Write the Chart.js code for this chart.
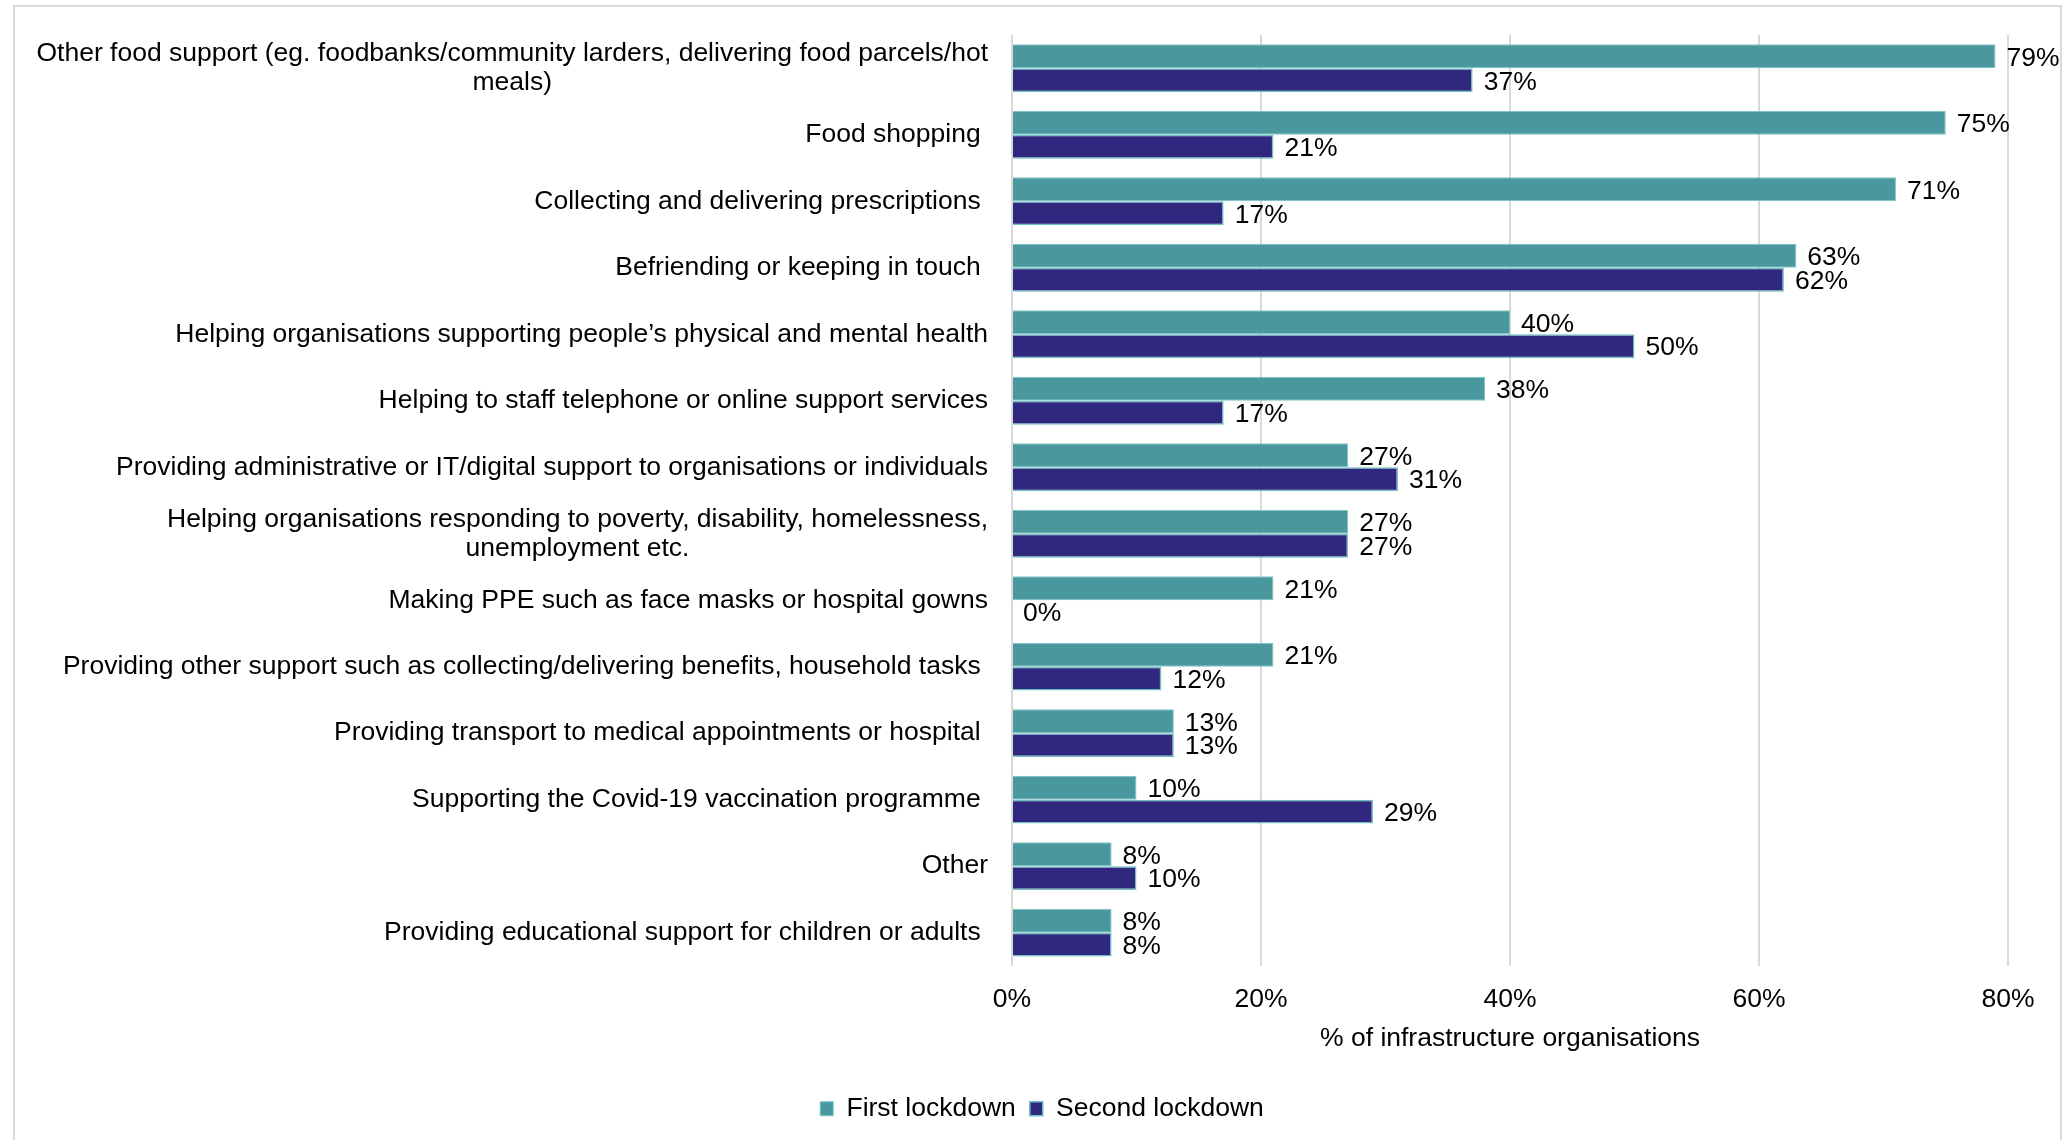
<!DOCTYPE html>
<html>
<head>
<meta charset="utf-8">
<script src="https://cdn.jsdelivr.net/npm/chart.js@4.4.1/dist/chart.umd.min.js"></script>
<style>
  html, body { margin: 0; padding: 0; background: #fff; }
  #wrap { position: relative; width: 2067px; height: 1140px; }
</style>
</head>
<body>
<div id="wrap"><canvas id="grafica" width="2067" height="1140"></canvas></div>
<script>
// Categorias (las de dos lineas van como arreglo)
const categorias = [
  ['Other food support (eg. foodbanks/community larders, delivering food parcels/hot', 'meals)'],
  'Food shopping ',
  'Collecting and delivering prescriptions ',
  'Befriending or keeping in touch ',
  'Helping organisations supporting people\u2019s physical and mental health',
  'Helping to staff telephone or online support services',
  'Providing administrative or IT/digital support to organisations or individuals',
  ['Helping organisations responding to poverty, disability, homelessness,', 'unemployment etc.'],
  'Making PPE such as face masks or hospital gowns',
  'Providing other support such as collecting/delivering benefits, household tasks ',
  'Providing transport to medical appointments or hospital ',
  'Supporting the Covid-19 vaccination programme ',
  'Other',
  'Providing educational support for children or adults '
];
const primerConfinamiento = [79, 75, 71, 63, 40, 38, 27, 27, 21, 21, 13, 10, 8, 8];
const segundoConfinamiento = [37, 21, 17, 62, 50, 17, 31, 27, 0, 12, 13, 29, 10, 8];
const ticksX = [0, 20, 40, 60, 80];
const nombresSeries = ['First lockdown', 'Second lockdown'];

const FUENTE = 'Arial, "Liberation Sans", sans-serif';
const TAM = 26.5;

// Marco gris alrededor del grafico
const marco = {
  id: 'marco',
  beforeDraw(chart) {
    const ctx = chart.ctx;
    ctx.save();
    ctx.strokeStyle = '#d9d9d9';
    ctx.lineWidth = 2;
    ctx.strokeRect(14, 6, 2047, 1200);
    ctx.restore();
  }
};

// Etiquetas de categoria: derecha alineada, lineas centradas entre si
const etiquetasY = {
  id: 'etiquetasY',
  afterDraw(chart) {
    const ctx = chart.ctx, y = chart.scales.y;
    const derecha = chart.chartArea.left - 24;
    const alto = 29;
    ctx.save();
    ctx.font = TAM + 'px ' + FUENTE;
    ctx.fillStyle = '#000';
    ctx.textBaseline = 'middle';
    ctx.textAlign = 'center';
    categorias.forEach((cat, i) => {
      const lineas = Array.isArray(cat) ? cat : [cat];
      const ancho = Math.max(...lineas.map(l => ctx.measureText(l).width));
      const cx = derecha - ancho / 2;
      const y0 = y.getPixelForValue(i) - (lineas.length - 1) * alto / 2;
      lineas.forEach((l, k) => ctx.fillText(l, cx, y0 + k * alto));
    });
    ctx.restore();
  }
};

// Valores al final de cada barra
const valores = {
  id: 'valores',
  afterDatasetsDraw(chart) {
    const ctx = chart.ctx;
    ctx.save();
    ctx.font = TAM + 'px ' + FUENTE;
    ctx.fillStyle = '#000';
    ctx.textBaseline = 'middle';
    ctx.textAlign = 'left';
    chart.data.datasets.forEach((ds, d) => {
      chart.getDatasetMeta(d).data.forEach((barra, i) => {
        ctx.fillText(ds.data[i] + '%', barra.x + 11, barra.y + 2);
      });
    });
    ctx.restore();
  }
};

const Conf = {
  type: 'bar',
  data: {
    labels: categorias.map(c => Array.isArray(c) ? c.join(' ') : c),
    datasets: [{
      label: nombresSeries[0],
      data: primerConfinamiento,
      backgroundColor: '#48989e',
      borderColor: '#7cc4c7',
      borderWidth: 1,
      categoryPercentage: 0.72,
      barPercentage: 1.0
    }, {
      label: nombresSeries[1],
      data: segundoConfinamiento,
      backgroundColor: '#30277f',
      borderColor: '#6fbfc3',
      borderWidth: 1.5,
      categoryPercentage: 0.72,
      barPercentage: 1.0
    }]
  },
  options: {
    indexAxis: 'y',
    responsive: false,
    animation: false,
    layout: { padding: { left: 76, right: 59, top: 35, bottom: 8 } },
    scales: {
      x: {
        min: 0, max: 80,
        afterBuildTicks(s) { s.ticks = ticksX.map(v => ({ value: v })); },
        grid: { color: '#d9d9d9', lineWidth: 2, drawTicks: false },
        border: { display: false },
        ticks: {
          padding: 18,
          color: '#000',
          font: { size: TAM, family: FUENTE },
          callback: v => v + '%'
        },
        title: {
          display: true,
          text: '% of infrastructure organisations',
          color: '#000',
          font: { size: TAM, family: FUENTE },
          padding: { top: -11, bottom: 27 }
        }
      },
      y: {
        grid: { display: false },
        border: { display: false },
        ticks: { display: false },
        afterFit(s) { s.width = 936; }
      }
    },
    plugins: {
      legend: {
        position: 'bottom',
        labels: {
          color: '#000',
          font: { size: TAM, family: FUENTE },
          boxWidth: 13,
          boxHeight: 14,
          padding: 14
        }
      },
      tooltip: { enabled: false }
    }
  },
  plugins: [marco, etiquetasY, valores]
};

window.Graf = new Chart(document.getElementById('grafica'), Conf);
</script>
</body>
</html>
